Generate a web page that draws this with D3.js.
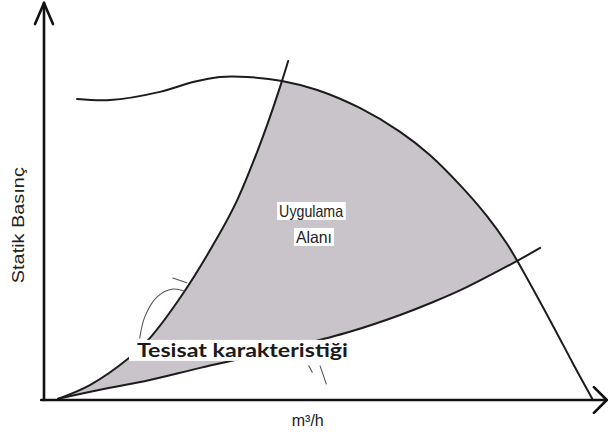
<!DOCTYPE html>
<html>
<head>
<meta charset="utf-8">
<script src="https://cdn.jsdelivr.net/npm/d3@7"></script>
<style>
  html, body { margin: 0; padding: 0; background: #fff; }
  svg { display: block; }
</style>
</head>
<body>
<svg id="chart" width="608" height="438"></svg>
<script>
// Fan (pressure) curve: flow vs static pressure
const fanFlow     = [0.59, 1.18, 2.07, 2.66, 3.14, 3.63, 4.25, 4.88, 5.64, 6.36, 6.89, 7.43, 7.91, 8.27, 8.45, 9.09, 9.45, 9.79];
const fanPressure = [7.68, 7.65, 7.86, 8.11, 8.24, 8.24, 8.14, 7.91, 7.45, 6.84, 6.25, 5.48, 4.69, 3.98, 3.55, 1.89, 0.92, 0.03];

// Steep system characteristic
const steepFlow     = [0.25, 0.82, 1.50, 1.89, 2.48, 3.09, 3.45, 3.82, 4.04, 4.25, 4.36];
const steepPressure = [0.03, 0.38, 1.05, 1.58, 2.71, 4.13, 5.10, 6.38, 7.24, 8.14, 8.65];

// Flat system characteristic
const flatFlow     = [0.25, 1.00, 1.89, 2.79, 3.68, 4.57, 5.46, 6.36, 6.95, 7.55, 8.45, 8.86];
const flatPressure = [0.03, 0.26, 0.51, 0.82, 1.10, 1.40, 1.74, 2.17, 2.50, 2.88, 3.55, 3.88];

// Hand-drawn leader strokes
const leaderFlow     = [1.71, 1.80, 2.02, 2.30, 2.50];
const leaderPressure = [1.58, 2.12, 2.63, 2.83, 2.78];
const tickFlow       = [2.30, 2.55];
const tickPressure   = [3.11, 2.99];
const markAFlow      = [4.73, 4.79];
const markAPressure  = [0.87, 0.71];
const markBFlow      = [4.93, 5.04];
const markBPressure  = [0.87, 0.41];

const labels = {
  region: ["Uygulama", "Alanı"],
  system: "Tesisat karakteristiği",
  xAxis: "m³/h",
  yAxis: "Statik Basınç"
};

const zip = (xs, ys) => xs.map((v, i) => [v, ys[i]]);
const fan   = zip(fanFlow, fanPressure);
const steep = zip(steepFlow, steepPressure);
const flat  = zip(flatFlow, flatPressure);

const svg = d3.select("#chart");
const x = d3.scaleLinear().domain([0, 10]).range([44, 604]);
const y = d3.scaleLinear().domain([0, 10]).range([400, 8]);

const line = d3.line()
  .x(d => x(d[0]))
  .y(d => y(d[1]))
  .curve(d3.curveCatmullRom.alpha(0.5));
const straight = d3.line().x(d => x(d[0])).y(d => y(d[1]));

// Operating region: steep curve up to the fan curve, along the fan curve,
// back down the flat system curve to the origin
const iSteep = 9, iFanA = 6, iFanB = 14, iFlat = 10;
const regionPath =
  line(steep.slice(0, iSteep + 1)) +
  line(fan.slice(iFanA, iFanB + 1)).replace(/^M/, "L") +
  line(flat.slice(0, iFlat + 1).reverse()).replace(/^M/, "L") + "Z";

svg.append("path")
  .attr("d", regionPath)
  .attr("fill", "#c8c4c9")
  .attr("stroke", "none");

const curveStyle = sel => sel
  .attr("fill", "none")
  .attr("stroke", "#1c1c1c")
  .attr("stroke-width", 2)
  .attr("stroke-linecap", "round");

svg.append("path").attr("d", line(fan)).call(curveStyle);
svg.append("path").attr("d", line(steep)).call(curveStyle);
svg.append("path").attr("d", line(flat)).call(curveStyle);

// Axes with arrow heads
const axisStyle = sel => sel
  .attr("fill", "none")
  .attr("stroke", "#111")
  .attr("stroke-width", 2.6)
  .attr("stroke-linecap", "round")
  .attr("stroke-linejoin", "round");

svg.append("path").attr("d", straight([[0, 0], [0, 10.13]])).call(axisStyle);
svg.append("path").attr("d", straight([[-0.16, 9.59], [0, 10.13], [0.16, 9.59]])).call(axisStyle);
svg.append("path").attr("d", straight([[-0.05, 0], [10.05, 0]])).call(axisStyle);
svg.append("path").attr("d", straight([[9.82, 0.33], [10.05, 0], [9.82, -0.33]])).call(axisStyle);

// Thin pencil strokes
const pencil = sel => sel
  .attr("fill", "none")
  .attr("stroke", "#555")
  .attr("stroke-width", 1.1)
  .attr("stroke-linecap", "round");

svg.append("path").attr("d", line(zip(leaderFlow, leaderPressure))).call(pencil);
svg.append("path").attr("d", straight(zip(tickFlow, tickPressure))).call(pencil);
svg.append("path").attr("d", straight(zip(markAFlow, markAPressure))).call(pencil);
svg.append("path").attr("d", straight(zip(markBFlow, markBPressure))).call(pencil);

// Region label with white backing
const regionG = svg.append("g");
const regionX = [4.77, 4.82];
const regionLen = [64, 36];
const regionText = regionG.selectAll("text")
  .data(labels.region)
  .join("text")
  .attr("x", (d, i) => x(regionX[i]))
  .attr("y", (d, i) => y(4.67) + i * 26)
  .attr("text-anchor", "middle")
  .attr("font-family", "'Liberation Sans', Arial, sans-serif")
  .attr("font-size", 16.5)
  .attr("textLength", (d, i) => regionLen[i])
  .attr("lengthAdjust", "spacingAndGlyphs")
  .attr("fill", "#222")
  .text(d => d);
regionText.each(function () {
  const b = this.getBBox();
  regionG.insert("rect", "text")
    .attr("x", b.x - 2).attr("y", b.y)
    .attr("width", b.width + 4).attr("height", b.height)
    .attr("fill", "#fff");
});

// System characteristic label
const sysG = svg.append("g");
const sysText = sysG.append("text")
  .attr("x", x(1.66))
  .attr("y", y(1.10))
  .attr("font-family", "Lato, 'Open Sans', sans-serif")
  .attr("font-weight", "bold")
  .attr("font-size", 18)
  .attr("textLength", 211)
  .attr("lengthAdjust", "spacingAndGlyphs")
  .attr("fill", "#1a1a1a")
  .text(labels.system);
{
  const b = sysText.node().getBBox();
  sysG.insert("rect", "text")
    .attr("x", b.x - 8).attr("y", b.y + 1)
    .attr("width", b.width + 11).attr("height", b.height - 1)
    .attr("fill", "#fff");
}

// Axis titles
svg.append("text")
  .attr("x", x(4.71))
  .attr("y", y(-0.66))
  .attr("text-anchor", "middle")
  .attr("font-family", "'Liberation Sans', Arial, sans-serif")
  .attr("font-size", 16)
  .attr("textLength", 32)
  .attr("lengthAdjust", "spacingAndGlyphs")
  .attr("fill", "#222")
  .text(labels.xAxis);

svg.append("text")
  .attr("transform", `translate(${x(-0.36)},${y(4.46)}) rotate(-90)`)
  .attr("text-anchor", "middle")
  .attr("font-family", "'Liberation Sans', Arial, sans-serif")
  .attr("font-size", 17)
  .attr("textLength", 116)
  .attr("lengthAdjust", "spacingAndGlyphs")
  .attr("fill", "#222")
  .text(labels.yAxis);
</script>
</body>
</html>
